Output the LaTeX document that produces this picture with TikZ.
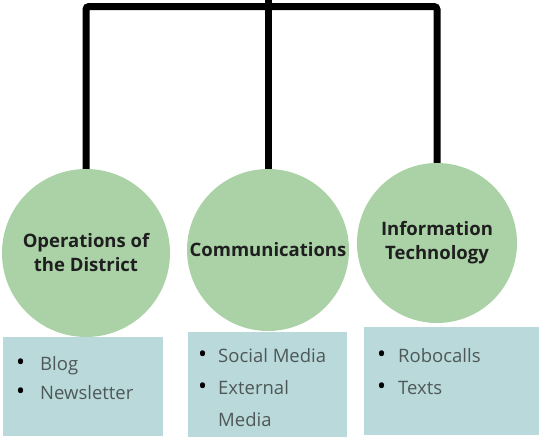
\documentclass[tikz,border=0pt]{standalone}
\usepackage{fontspec}
\setmainfont{Open Sans}
\usepackage{tikz}
\definecolor{circlegreen}{HTML}{AAD2A6}
\definecolor{boxblue}{HTML}{B9D9DB}
\definecolor{itemgray}{HTML}{4F5858}
\newcommand{\dotitem}[1]{\llap{\textcolor{black}{\fontsize{24}{24}\selectfont\textbullet}\hspace{#1}}}

\begin{document}
\begin{tikzpicture}[x=1pt,y=-1pt,
    dept/.style={circle, fill=circlegreen, inner sep=0pt, align=center,
      text=black!88, font=\fontsize{18.5}{24}\selectfont\bfseries},
    listbox/.style={rectangle, fill=boxblue, anchor=north west, inner sep=0pt},
    item/.style={anchor=base west, text=itemgray, inner sep=0pt,
      font=\fontsize{18.5}{24}\selectfont},
    branch/.style={line width=7pt, black, rounded corners=3pt}]
  \useasboundingbox (0,0) rectangle (539,439);

  % list boxes
  \node [listbox, minimum width=160pt, minimum height=99pt] (opsbox) at (3,337) {};
  \node [listbox, minimum width=159pt, minimum height=105pt] (commbox) at (188,332) {};
  \node [listbox, minimum width=175pt, minimum height=108pt] (itbox) at (364,327) {};

  % departments
  \node [dept, minimum size=168pt] (ops) at (86,253) {Operations of\\the District};
  \node [dept, minimum size=162pt] (comm) at (268,250) {Communications};
  \node [dept, minimum size=160pt] (it) at (437,243) {Information\\Technology};

  % tree lines
  \coordinate (top) at (268,0);
  \coordinate (bar) at (0,6.5);
  \draw [branch] (ops.north) -- (ops.north |- bar) -- (it.north |- bar) -- (it.north);
  \draw [branch] (top) -- (comm.north);

  % items
  \node [item] (blog) at (40,370) {\dotitem{15pt}Blog};
  \node [item] (news) at (40,399) {\dotitem{15pt}Newsletter};
  \node [item] (social) at (218,362) {\dotitem{11pt}Social Media};
  \node [item] (ext) at (218,394) {\dotitem{11pt}External};
  \node [item] (media) at (218,426) {Media};
  \node [item] (robo) at (398,362) {\dotitem{12pt}Robocalls};
  \node [item] (texts) at (398,394) {\dotitem{12pt}Texts};
\end{tikzpicture}
\end{document}
